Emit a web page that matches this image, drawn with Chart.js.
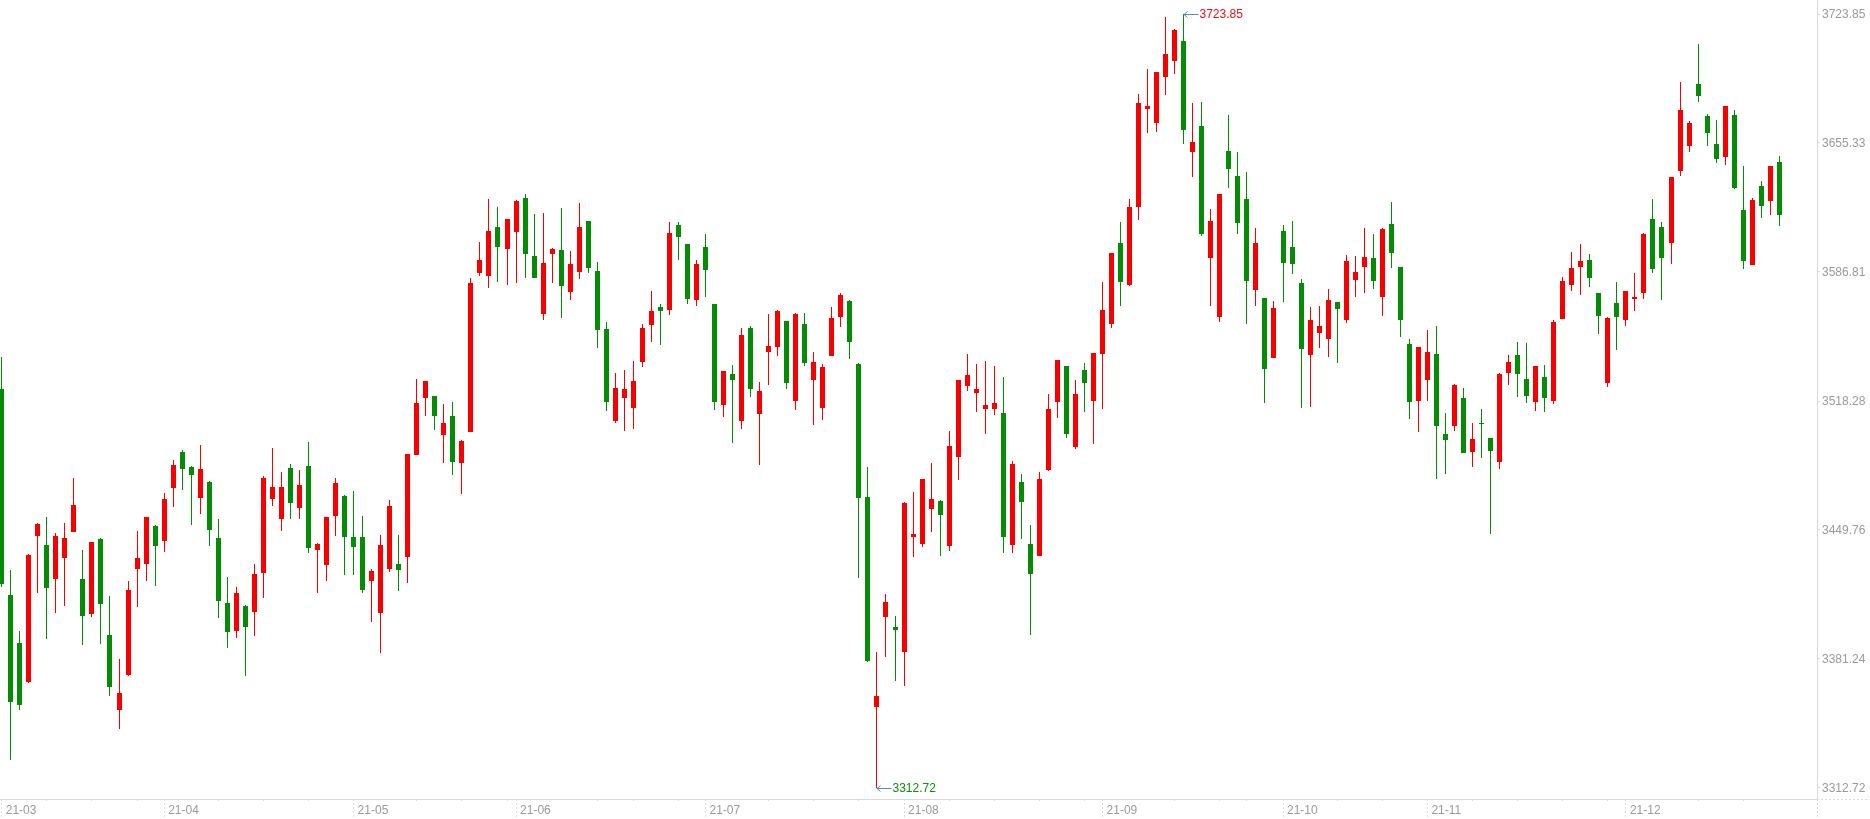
<!DOCTYPE html>
<html>
<head>
<meta charset="utf-8">
<title>K-line chart</title>
<script src="https://cdn.jsdelivr.net/npm/chart.js@4.4.1/dist/chart.umd.min.js"></script>
<style>
  html, body { margin: 0; padding: 0; background: #ffffff; overflow: hidden; }
  #c { display: block; }
</style>
</head>
<body>
<canvas id="c" width="1870" height="819"></canvas>
<script>
// ---------------- categories (trading days, 2021) ----------------
const dates = [
 '03-08','03-09','03-10','03-11','03-12','03-15','03-16','03-17','03-18','03-19','03-22','03-23','03-24','03-25','03-26','03-29','03-30','03-31',
 '04-01','04-02','04-06','04-07','04-08','04-09','04-12','04-13','04-14','04-15','04-16','04-19','04-20','04-21','04-22','04-23','04-26','04-27','04-28','04-29','04-30',
 '05-06','05-07','05-10','05-11','05-12','05-13','05-14','05-17','05-18','05-19','05-20','05-21','05-24','05-25','05-26','05-27','05-28','05-31',
 '06-01','06-02','06-03','06-04','06-07','06-08','06-09','06-10','06-11','06-15','06-16','06-17','06-18','06-21','06-22','06-23','06-24','06-25','06-28','06-29','06-30',
 '07-01','07-02','07-05','07-06','07-07','07-08','07-09','07-12','07-13','07-14','07-15','07-16','07-19','07-20','07-21','07-22','07-23','07-26','07-27','07-28','07-29','07-30',
 '08-02','08-03','08-04','08-05','08-06','08-09','08-10','08-11','08-12','08-13','08-16','08-17','08-18','08-19','08-20','08-23','08-24','08-25','08-26','08-27','08-30','08-31',
 '09-01','09-02','09-03','09-06','09-07','09-08','09-09','09-10','09-13','09-14','09-15','09-16','09-17','09-22','09-23','09-24','09-27','09-28','09-29','09-30',
 '10-08','10-11','10-12','10-13','10-14','10-15','10-18','10-19','10-20','10-21','10-22','10-25','10-26','10-27','10-28','10-29',
 '11-01','11-02','11-03','11-04','11-05','11-08','11-09','11-10','11-11','11-12','11-15','11-16','11-17','11-18','11-19','11-22','11-23','11-24','11-25','11-26','11-29','11-30',
 '12-01','12-02','12-03','12-06','12-07','12-08','12-09','12-10','12-13','12-14','12-15','12-16','12-17','12-20','12-21','12-22','12-23','12-24'
];

// ---------------- series values ----------------
const open = [
 3524.7,3415.2,3389.7,3369.2,3446.7,3441.8,3423.7,3435.1,3448.9,3423.7,
 3405.3,3445.0,3394.0,3354.2,3372.7,3429.2,3431.7,3451.9,3444.1,3472.3,
 3491.2,3483.2,3467.0,3475.3,3445.5,3411.0,3396.3,3409.4,3406.4,3427.1,
 3466.4,3455.8,3482.7,3461.6,3483.8,3439.3,3431.4,3457.4,3467.8,3446.0,
 3446.0,3422.9,3405.9,3429.2,3431.7,3435.6,3489.8,3520.1,3520.9,3500.4,
 3510.3,3485.5,3502.0,3586.3,3584.9,3610.7,3599.2,3608.2,3626.1,3595.3,
 3564.7,3596.5,3598.5,3576.4,3587.0,3613.9,3587.3,3556.5,3507.8,3520.1,
 3514.8,3539.1,3558.8,3568.1,3566.8,3612.0,3601.7,3572.1,3600.1,3569.8,
 3516.4,3532.7,3507.6,3557.1,3511.4,3544.4,3547.1,3560.7,3518.3,3559.2,
 3529.6,3514.3,3542.3,3563.0,3571.4,3538.0,3467.2,3355.7,3403.3,3398.0,
 3385.1,3446.2,3442.4,3461.1,3465.1,3441.1,3488.3,3526.5,3522.3,3513.8,
 3513.8,3512.0,3442.0,3475.3,3442.4,3436.2,3481.8,3517.8,3536.8,3494.1,
 3534.8,3518.5,3543.5,3559.1,3602.3,3579.7,3621.1,3673.2,3666.2,3690.6,
 3698.7,3709.6,3650.8,3664.4,3594.5,3562.7,3651.0,3637.8,3625.5,3577.5,
 3573.0,3541.3,3608.6,3600.1,3581.0,3542.9,3554.6,3551.4,3570.9,3561.5,
 3582.7,3589.6,3594.2,3573.7,3612.3,3589.5,3548.6,3518.5,3529.6,3543.2,
 3500.8,3505.2,3519.9,3491.4,3506.6,3498.6,3486.1,3533.3,3542.7,3530.0,
 3517.9,3531.0,3518.5,3562.0,3580.1,3589.6,3593.2,3575.7,3528.0,3570.3,
 3561.5,3572.6,3575.8,3615.0,3610.7,3602.4,3640.6,3653.9,3686.7,3669.5,
 3654.8,3648.1,3670.2,3619.7,3590.7,3632.5,3624.7,3645.2
];
const high = [
 3541.8,3428.5,3396.1,3437.0,3453.7,3456.7,3448.0,3453.5,3477.4,3439.1,
 3443.6,3445.3,3414.7,3381.2,3422.7,3449.4,3456.9,3452.2,3469.6,3487.0,
 3492.3,3483.5,3494.9,3475.6,3455.6,3424.8,3419.5,3409.7,3431.7,3478.5,
 3493.3,3480.6,3484.8,3481.6,3496.5,3442.9,3456.9,3477.4,3468.4,3470.5,
 3457.2,3429.0,3447.1,3465.7,3447.1,3490.3,3530.0,3529.1,3521.1,3516.7,
 3517.8,3497.6,3583.6,3602.7,3625.6,3621.3,3615.2,3625.1,3628.2,3617.6,
 3618.1,3599.6,3620.8,3598.0,3623.5,3614.1,3592.1,3560.2,3533.2,3534.8,
 3539.5,3559.0,3576.7,3569.7,3613.4,3613.4,3601.9,3593.0,3607.0,3570.0,
 3534.4,3537.4,3557.1,3558.0,3528.3,3564.5,3566.6,3561.0,3565.1,3565.1,
 3544.2,3538.0,3568.1,3575.7,3571.7,3538.3,3483.2,3385.1,3415.8,3404.2,
 3464.4,3469.9,3477.1,3485.4,3465.7,3502.1,3529.6,3543.5,3537.7,3539.7,
 3537.0,3531.0,3486.5,3479.5,3452.5,3480.7,3522.0,3540.3,3537.0,3529.4,
 3538.6,3543.9,3581.5,3597.1,3613.5,3625.5,3681.4,3694.6,3693.3,3722.3,
 3715.9,3723.85,3676.5,3677.2,3620.2,3628.4,3670.3,3650.6,3639.9,3610.1,
 3573.2,3571.4,3611.8,3613.9,3583.1,3568.2,3568.7,3577.8,3571.1,3595.8,
 3595.3,3610.2,3607.0,3610.2,3624.0,3589.7,3551.2,3547.2,3556.0,3558.1,
 3511.9,3527.3,3525.2,3506.6,3514.0,3498.8,3533.1,3542.7,3549.6,3549.1,
 3537.1,3537.4,3561.3,3584.1,3597.4,3601.7,3596.4,3575.9,3562.9,3581.5,
 3576.9,3586.3,3607.3,3625.6,3613.4,3637.5,3687.7,3666.8,3707.9,3670.6,
 3667.5,3675.2,3672.9,3643.1,3625.9,3635.1,3643.3,3648.4
];
const low = [
 3419.5,3327.6,3354.2,3368.5,3416.5,3391.9,3405.5,3409.6,3448.5,3388.7,
 3403.7,3389.2,3361.8,3344.1,3372.2,3409.0,3422.9,3420.2,3438.1,3462.2,
 3471.0,3452.4,3458.3,3441.4,3403.2,3387.3,3392.6,3372.4,3393.6,3413.8,
 3462.5,3449.4,3455.6,3455.6,3437.7,3416.5,3422.9,3446.8,3426.0,3426.0,
 3416.1,3401.1,3384.3,3427.6,3417.5,3421.8,3489.5,3510.5,3502.9,3485.5,
 3479.0,3469.1,3501.8,3584.9,3578.5,3581.7,3579.9,3581.1,3583.8,3583.6,
 3561.3,3581.0,3562.6,3572.1,3583.3,3586.5,3546.6,3513.2,3506.8,3502.5,
 3503.6,3536.1,3549.4,3548.2,3564.2,3593.4,3570.0,3568.9,3573.3,3513.7,
 3509.9,3496.2,3503.6,3520.5,3484.3,3527.0,3542.2,3524.9,3513.5,3537.0,
 3505.7,3508.4,3542.0,3557.7,3540.8,3424.0,3379.8,3312.72,3382.1,3369.7,
 3367.1,3435.4,3440.7,3448.8,3436.1,3438.4,3476.4,3523.4,3512.7,3500.6,
 3510.6,3437.7,3437.3,3445.1,3394.1,3436.0,3480.9,3509.5,3498.8,3492.9,
 3512.7,3495.7,3514.2,3557.3,3569.0,3579.5,3614.6,3660.4,3661.3,3681.0,
 3692.2,3655.0,3637.4,3606.1,3568.5,3560.0,3631.6,3607.2,3559.4,3568.5,
 3517.4,3541.1,3571.0,3585.7,3514.7,3515.3,3546.6,3541.8,3538.6,3559.9,
 3573.7,3575.8,3578.0,3563.6,3589.1,3552.5,3508.9,3502.0,3518.5,3477.0,
 3479.7,3502.5,3490.6,3483.4,3488.2,3447.8,3482.3,3526.8,3520.4,3517.2,
 3513.1,3512.6,3516.9,3561.8,3576.9,3574.8,3579.0,3554.0,3525.9,3545.5,
 3558.3,3566.3,3572.6,3586.5,3572.1,3591.2,3638.0,3650.7,3677.3,3653.9,
 3644.9,3643.8,3631.1,3588.6,3590.5,3615.7,3617.1,3611.4
];
const close = [
 3420.9,3358.6,3356.8,3436.5,3452.9,3419.1,3446.6,3445.5,3463.0,3404.3,
 3443.4,3410.6,3366.6,3363.0,3417.9,3434.9,3456.7,3441.4,3466.2,3484.3,
 3482.3,3479.0,3482.2,3450.0,3412.2,3395.8,3416.3,3398.4,3426.4,3477.4,
 3472.6,3472.6,3464.3,3473.7,3440.4,3442.3,3456.7,3474.7,3446.2,3440.9,
 3417.9,3428.0,3441.8,3462.5,3428.5,3490.1,3517.2,3528.9,3510.5,3506.6,
 3485.9,3497.0,3581.0,3593.2,3608.6,3600.3,3615.0,3624.5,3596.5,3583.8,
 3591.6,3599.0,3579.5,3591.1,3610.7,3589.1,3556.2,3518.0,3525.2,3524.7,
 3528.9,3557.1,3566.1,3566.2,3607.5,3605.6,3572.7,3591.1,3588.1,3517.9,
 3534.2,3529.6,3553.3,3524.9,3523.6,3547.5,3566.1,3528.1,3564.5,3538.5,
 3538.9,3536.5,3562.5,3574.6,3549.7,3467.0,3380.2,3361.6,3411.4,3396.8,
 3464.2,3447.7,3476.9,3466.3,3457.6,3494.3,3529.4,3532.1,3524.7,3516.2,
 3517.3,3446.3,3484.9,3464.8,3426.6,3476.9,3514.0,3540.1,3501.0,3522.0,
 3527.6,3543.7,3566.7,3596.9,3581.3,3621.3,3676.5,3674.9,3693.1,3702.7,
 3715.4,3662.0,3655.9,3606.8,3613.9,3628.2,3641.6,3612.6,3582.2,3602.3,
 3535.4,3567.7,3591.8,3591.2,3546.1,3561.3,3558.1,3571.9,3567.3,3592.6,
 3586.8,3594.8,3582.2,3609.6,3597.1,3561.5,3517.9,3547.0,3544.3,3505.2,
 3497.7,3526.8,3490.8,3498.1,3506.1,3491.9,3532.6,3539.0,3532.8,3521.1,
 3536.9,3520.1,3560.3,3582.0,3588.9,3592.7,3583.8,3563.6,3562.4,3563.1,
 3576.7,3573.7,3607.0,3588.6,3594.4,3637.3,3672.9,3666.0,3680.5,3660.8,
 3647.0,3675.0,3631.6,3592.8,3625.0,3622.0,3643.1,3617.3
];

// ---------------- tick labels ----------------
const monthTickIdx    = [0, 18, 39, 57, 78, 100, 122, 142, 158, 180];
const monthTickLabels = ['21-03','21-04','21-05','21-06','21-07','21-08','21-09','21-10','21-11','21-12'];
const weekTickIdx     = [5,10,15,24,29,34,46,51,56,66,70,75,85,90,95,105,110,115,120,130,135,138,148,153,163,168,173,178,188,193];
const yTickValues     = [3312.72, 3381.24, 3449.76, 3518.28, 3586.81, 3655.33, 3723.85];

// ---------------- styling ----------------
const UP = '#f80000', DOWN = '#058c05';
const AXIS = '#d9d9d9', TEXT = '#999999';
const FONT = '"Liberation Sans", Arial, Helvetica, sans-serif';

Chart.defaults.font.family = FONT;
Chart.defaults.font.size = 12;

const idx = dates.map((d, i) => i);
const colors = idx.map(i => close[i] >= open[i] ? UP : DOWN);

const noPad = s => { s.paddingTop = 0; s.paddingBottom = 0; s.paddingLeft = 0; s.paddingRight = 0; };
const snapX = px => Math.floor(px) + 0.5;

const axisDeco = {
  id: 'axisDeco',
  afterDatasetsUpdate(chart) {
    // snap candle bodies and wicks to whole pixels so they render crisp
    chart.data.datasets.forEach((ds, di) => {
      chart.getDatasetMeta(di).data.forEach(el => {
        el.x = snapX(el.x);
        let top = Math.round(Math.min(el.y, el.base));
        let bot = Math.round(Math.max(el.y, el.base));
        if (bot - top < 1) bot = top + 1;
        el.y = top; el.base = bot;
      });
    });
  },
  beforeDraw(chart) {
    const ctx = chart.ctx;
    ctx.save();
    ctx.fillStyle = '#ffffff';
    ctx.fillRect(0, 0, chart.width, chart.height);
    ctx.restore();
  },
  afterDraw(chart) {
    const ctx = chart.ctx, xs = chart.scales.x, ys = chart.scales.y, a = chart.chartArea;
    const yb = a.bottom;
    const line = (x1, y1, x2, y2) => { ctx.beginPath(); ctx.moveTo(x1, y1); ctx.lineTo(x2, y2); ctx.stroke(); };
    ctx.save();
    ctx.strokeStyle = AXIS; ctx.lineWidth = 1; ctx.setLineDash([2, 2]);
    monthTickIdx.forEach(i => { const x = snapX(xs.getPixelForValue(i)); line(x, yb, x, chart.height); });
    weekTickIdx.forEach(i => { const x = snapX(xs.getPixelForValue(i)); line(x, yb, x, yb + 4); });
    line(a.right, Math.round(yb) + 0.5, chart.width, Math.round(yb) + 0.5);
    line(Math.round(a.right) + 0.5, yb, Math.round(a.right) + 0.5, chart.height);
    ctx.restore();

    // extreme value markers
    let iMax = 0, iMin = 0;
    idx.forEach(i => { if (high[i] > high[iMax]) iMax = i; if (low[i] < low[iMin]) iMin = i; });
    const mark = (i, v, color) => {
      const x = snapX(xs.getPixelForValue(i));
      const y = Math.round(ys.getPixelForValue(v)) + 0.5;
      ctx.save();
      ctx.strokeStyle = '#4a8fc4'; ctx.lineWidth = 1; ctx.setLineDash([]);
      ctx.beginPath();
      ctx.moveTo(x, y); ctx.lineTo(x + 15, y);
      ctx.moveTo(x + 4, y - 3); ctx.lineTo(x + 0.5, y); ctx.lineTo(x + 4, y + 3);
      ctx.stroke();
      ctx.fillStyle = color;
      ctx.font = '12px ' + FONT;
      ctx.textAlign = 'left'; ctx.textBaseline = 'middle';
      ctx.fillText(v.toFixed(2), x + 16, y);
      ctx.restore();
    };
    mark(iMax, high[iMax], '#e8101a');
    mark(iMin, low[iMin], '#108a10');
  }
};

new Chart(document.getElementById('c'), {
  type: 'bar',
  data: {
    datasets: [
      {
        label: 'body',
        data: idx.map(i => ({ x: i, y: [open[i], close[i]] })),
        backgroundColor: colors,
        borderWidth: 0,
        barThickness: 5,
        grouped: false,
        minBarLength: 1,
        inflateAmount: 0,
        order: 0
      },
      {
        label: 'wick',
        data: idx.map(i => ({ x: i, y: [low[i], high[i]] })),
        backgroundColor: colors,
        borderWidth: 0,
        barThickness: 1,
        grouped: false,
        inflateAmount: 0,
        order: 1
      }
    ]
  },
  options: {
    responsive: false,
    animation: false,
    events: [],
    layout: { padding: 0 },
    plugins: { legend: { display: false }, tooltip: { enabled: false } },
    scales: {
      x: {
        type: 'linear',
        position: 'bottom',
        offset: false,
        min: -0.19,
        max: 201.18,
        grid: { display: false, drawTicks: false, tickLength: 0 },
        border: { display: true, color: AXIS, dash: [2, 2] },
        ticks: {
          autoSkip: false, maxRotation: 0, minRotation: 0,
          align: 'start', labelOffset: 4, padding: 4,
          color: TEXT, font: { size: 12 },
          callback: v => { const k = monthTickIdx.indexOf(v); return k >= 0 ? monthTickLabels[k] : ''; }
        },
        afterBuildTicks: s => { s.ticks = monthTickIdx.map(v => ({ value: v })); },
        afterFit: s => { s.height = 20; noPad(s); }
      },
      y: {
        type: 'linear',
        position: 'right',
        min: 3306.87,
        max: 3731.29,
        grid: { display: true, drawOnChartArea: false, drawTicks: true, tickLength: 4, tickColor: AXIS, tickBorderDash: [2, 2], color: AXIS },
        border: { display: true, color: AXIS, dash: [2, 2] },
        ticks: {
          autoSkip: false, crossAlign: 'near', padding: 1, labelOffset: 1,
          color: TEXT, font: { size: 12 },
          callback: v => { const k = yTickValues.indexOf(v); return k >= 0 ? yTickValues[k].toFixed(2) : ''; }
        },
        afterBuildTicks: s => { s.ticks = yTickValues.map(v => ({ value: v })); },
        afterFit: s => { s.width = 53; noPad(s); }
      }
    }
  },
  plugins: [axisDeco]
});
</script>
</body>
</html>
